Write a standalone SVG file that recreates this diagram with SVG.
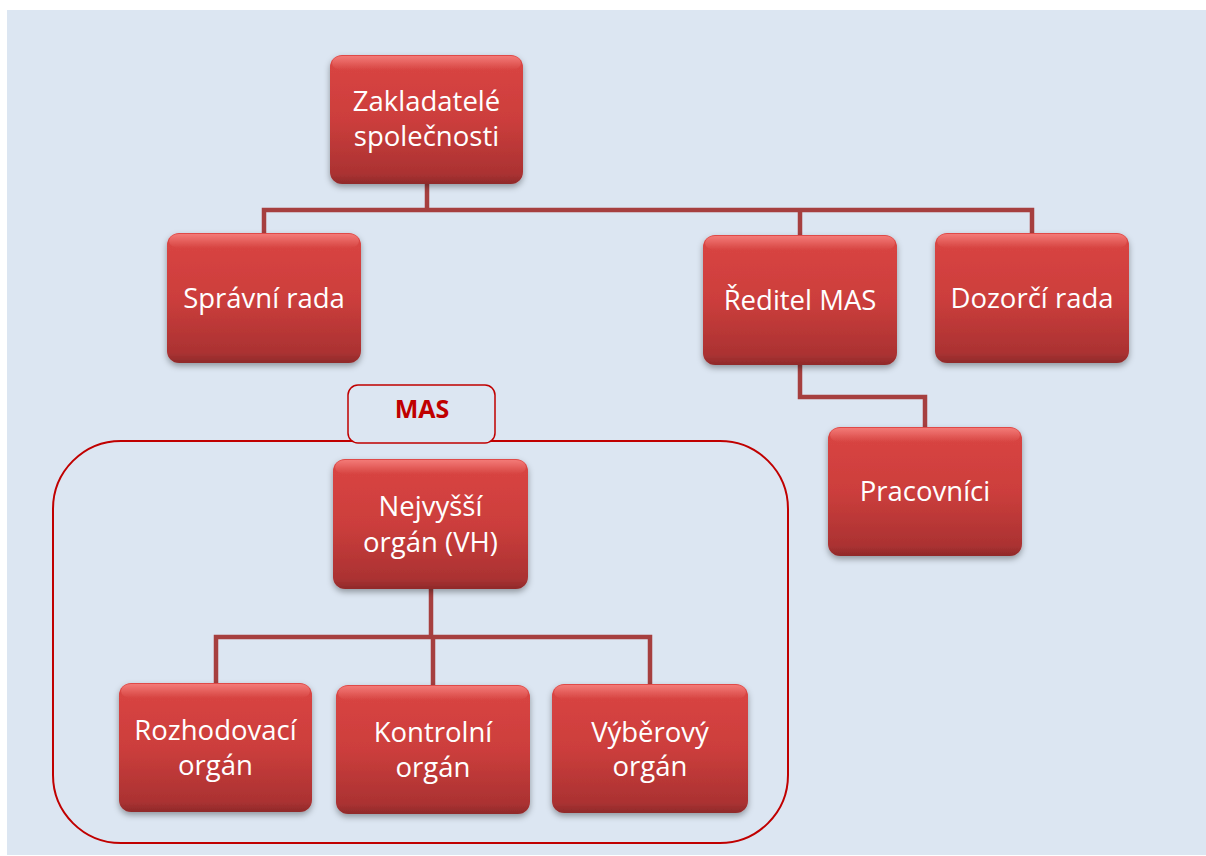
<svg xmlns="http://www.w3.org/2000/svg" width="1206" height="856" viewBox="0 0 1206 856">
<style>
.box{fill:url(#g);filter:url(#sh)}
.hl{fill:url(#h)}
.t{font-family:"Open Sans","Noto Sans",sans-serif;font-size:27.5px;fill:#fff;text-anchor:middle}
.c{fill:none;stroke:#a63f3f;stroke-width:4.5;stroke-linejoin:miter}
</style>
<defs>
<linearGradient id="g" x1="0" y1="0" x2="0" y2="1">
<stop offset="0" stop-color="#e04a47"/>
<stop offset="0.08" stop-color="#d84442"/>
<stop offset="0.5" stop-color="#cc3e3c"/>
<stop offset="0.92" stop-color="#ab3232"/>
<stop offset="1" stop-color="#8f2a2a"/>
</linearGradient>
<linearGradient id="h" x1="0" y1="0" x2="0" y2="1">
<stop offset="0" stop-color="#ff9a96" stop-opacity="0.6"/>
<stop offset="1" stop-color="#ff9a96" stop-opacity="0"/>
</linearGradient>
<filter id="sh" x="-10%" y="-10%" width="120%" height="125%">
<feDropShadow dx="0" dy="3" stdDeviation="3" flood-color="#000" flood-opacity="0.35"/>
</filter>
</defs>
<rect x="0" y="0" width="1206" height="856" fill="#fff"/>
<rect x="7" y="10" width="1199" height="845" fill="#dce6f2"/>

<g id="mas-frame">
<rect x="53" y="441" width="735" height="402" rx="68" ry="68" fill="none" stroke="#c00000" stroke-width="2"/>
</g>
<g id="mas-label">
<rect x="348" y="385" width="147" height="58" rx="10" ry="10" fill="#dce6f2" stroke="#c00000" stroke-width="1.5"/>
<text x="422" y="418" font-family="'Open Sans','Noto Sans',sans-serif" font-size="25" font-weight="bold" fill="#c00000" text-anchor="middle">MAS</text>
</g>

<g id="connectors">
<path class="c" d="M427 184 V210 M264 233 V210 H1032 V233 M800 210 V235"/>
<path class="c" d="M800 365 V397 H925 V427"/>
<path class="c" d="M431 589 V637 M216 683 V637 H650 V684 M433 637 V685"/>
</g>

<g id="zakladatele">
<rect class="box" x="330" y="55" width="193" height="129" rx="12"/>
<rect class="hl" x="332" y="56" width="189" height="14" rx="10"/>
<text class="t" x="426.5" y="111">Zakladatelé</text>
<text class="t" x="426.5" y="146">společnosti</text>
</g>
<g id="spravni-rada">
<rect class="box" x="167" y="233" width="194" height="130" rx="12"/>
<rect class="hl" x="169" y="234" width="190" height="14" rx="10"/>
<text class="t" x="264" y="308">Správní rada</text>
</g>
<g id="reditel">
<rect class="box" x="703" y="235" width="194" height="130" rx="12"/>
<rect class="hl" x="705" y="236" width="190" height="14" rx="10"/>
<text class="t" x="800" y="310">Ředitel MAS</text>
</g>
<g id="dozorci-rada">
<rect class="box" x="935" y="233" width="194" height="130" rx="12"/>
<rect class="hl" x="937" y="234" width="190" height="14" rx="10"/>
<text class="t" x="1032" y="308">Dozorčí rada</text>
</g>
<g id="pracovnici">
<rect class="box" x="828" y="427" width="194" height="129" rx="12"/>
<rect class="hl" x="830" y="428" width="190" height="14" rx="10"/>
<text class="t" x="925" y="501">Pracovníci</text>
</g>
<g id="nejvyssi">
<rect class="box" x="333" y="459" width="195" height="130" rx="12"/>
<rect class="hl" x="335" y="460" width="191" height="14" rx="10"/>
<text class="t" x="430.5" y="516">Nejvyšší</text>
<text class="t" x="430.5" y="552">orgán (VH)</text>
</g>
<g id="rozhodovaci">
<rect class="box" x="119" y="683" width="193" height="129" rx="12"/>
<rect class="hl" x="121" y="684" width="189" height="14" rx="10"/>
<text class="t" x="215.5" y="740">Rozhodovací</text>
<text class="t" x="215.5" y="775">orgán</text>
</g>
<g id="kontrolni">
<rect class="box" x="336" y="685" width="194" height="129" rx="12"/>
<rect class="hl" x="338" y="686" width="190" height="14" rx="10"/>
<text class="t" x="433" y="742">Kontrolní</text>
<text class="t" x="433" y="777">orgán</text>
</g>
<g id="vyberovy">
<rect class="box" x="552" y="684" width="196" height="129" rx="12"/>
<rect class="hl" x="554" y="685" width="192" height="14" rx="10"/>
<text class="t" x="650" y="742">Výběrový</text>
<text class="t" x="650" y="776">orgán</text>
</g>
</svg>
